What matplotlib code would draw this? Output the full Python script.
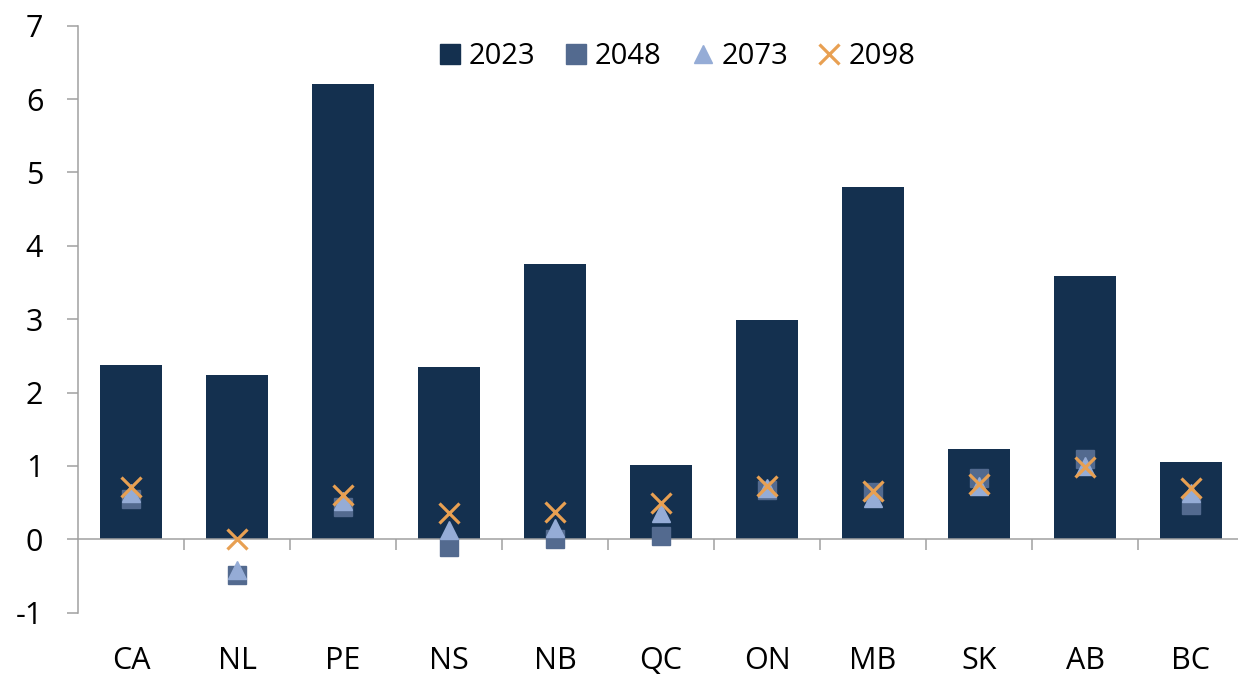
import numpy as np
import matplotlib.pyplot as plt
from matplotlib.lines import Line2D

plt.rcParams['font.family'] = ['Open Sans', 'DejaVu Sans']
plt.rcParams['axes.unicode_minus'] = False

provinces = ['CA', 'NL', 'PE', 'NS', 'NB', 'QC', 'ON', 'MB', 'SK', 'AB', 'BC']
v2023 = [2.37, 2.24, 6.21, 2.35, 3.75, 1.01, 2.99, 4.80, 1.23, 3.59, 1.06]
v2048 = [0.55, -0.49, 0.44, -0.10, 0.01, 0.04, 0.67, 0.64, 0.84, 1.10, 0.47]
v2073 = [0.63, -0.42, 0.52, 0.13, 0.16, 0.36, 0.70, 0.57, 0.73, 1.00, 0.63]
v2098 = [0.71, 0.00, 0.61, 0.36, 0.37, 0.49, 0.73, 0.66, 0.75, 0.99, 0.70]

c_bar = '#14304f'
c_sq = '#536a8f'
c_tri = '#95acd6'
c_x = '#e8a052'
c_axis = '#a0a0a0'

fig = plt.figure(figsize=(12.38, 6.75), dpi=100)
ax = fig.add_axes([78 / 1238, 1 - 612.7 / 675, (1244 - 78) / 1238, (612.7 - 25.7) / 675])

x = np.arange(len(provinces))
ax.bar(x, v2023, width=0.58, color=c_bar, zorder=2)
ax.plot(x, v2048, 's', ms=13.5, color=c_sq, zorder=3, linestyle='none')
ax.plot(x, v2073, '^', ms=13, color=c_tri, zorder=4, linestyle='none')
ax.plot(x, v2098, 'x', ms=14.5, mew=2.3, color=c_x, zorder=5, linestyle='none')

ax.set_xlim(-0.5, len(provinces) - 0.5)
ax.set_ylim(-1, 7)
ax.set_yticks(range(-1, 8))

for s in ['top', 'right']:
    ax.spines[s].set_visible(False)
ax.spines['bottom'].set_position(('data', 0))
for s in ['left', 'bottom']:
    ax.spines[s].set_color(c_axis)
    ax.spines[s].set_linewidth(1.1)

ax.set_xticks(x)
ax.set_xticklabels(provinces)
ax.set_xticks(np.arange(0.5, len(provinces) - 0.5), minor=True)
ax.tick_params(axis='x', which='major', length=0, pad=77, labelsize=22)
ax.tick_params(axis='x', which='minor', length=8, width=1.1, color=c_axis)
ax.tick_params(axis='y', length=8, width=1.1, color=c_axis, pad=17, labelsize=22)

handles = [
    Line2D([], [], marker='s', ms=14, color=c_bar, linestyle='none'),
    Line2D([], [], marker='s', ms=14, color=c_sq, linestyle='none'),
    Line2D([], [], marker='^', ms=13, color=c_tri, linestyle='none'),
    Line2D([], [], marker='x', ms=14, mew=2.3, color=c_x, linestyle='none'),
]
ax.legend(handles, ['2023', '2048', '2073', '2098'], loc='center',
          bbox_to_anchor=(678 / 1238, 1 - 57 / 675), bbox_transform=fig.transFigure,
          ncol=4, frameon=False, fontsize=21, handlelength=0.6, handletextpad=0.35,
          columnspacing=1.1, borderpad=0)

fig.savefig('out.png', dpi=100)
